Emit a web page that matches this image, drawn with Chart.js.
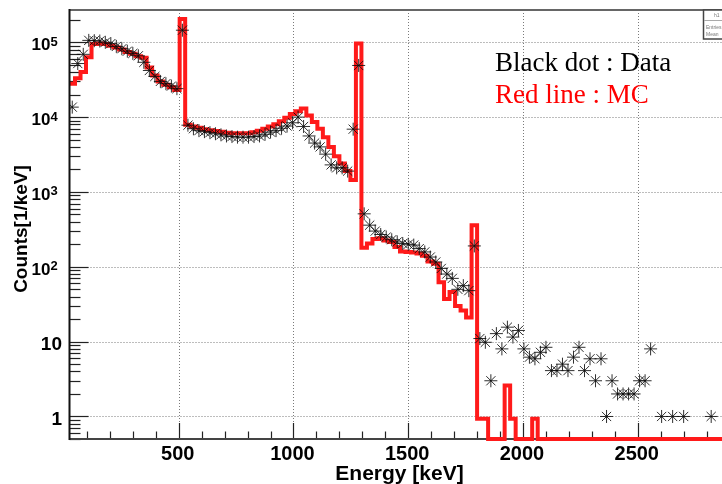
<!DOCTYPE html>
<html>
<head>
<meta charset="utf-8">
<script src="https://cdn.jsdelivr.net/npm/chart.js@4/dist/chart.umd.min.js"></script>
<style>
  html, body { margin: 0; padding: 0; overflow: hidden; background: #fff; width: 722px; height: 484px; }
  #wrap { position: absolute; left: 0; top: 0; width: 760px; height: 484px; }
</style>
</head>
<body>
<div id="wrap"><canvas id="spectrum" width="760" height="484"></canvas></div>
<script>
// Energy binning of the spectrum (keV)
const binWidth = 24;
const firstBinLow = 24;

// Measured spectrum, counts per keV for each 24 keV bin (null = empty bin)
const dataCounts = [
  1.36e4, 5.2e4, 6.9e4, 1.06e5, 1.05e5, 1.04e5, 1.0e5, 9.6e4, 8.8e4, 8.2e4,
  7.6e4, 7.1e4, 6.6e4, 5.4e4, 4.2e4, 3.5e4, 3.0e4, 2.8e4, 2.6e4, 2.4e4,
  1.45e5, 7.8e3, 7.0e3, 6.6e3, 6.4e3, 6.2e3, 6.0e3, 5.8e3, 5.6e3, 5.5e3,
  5.4e3, 5.4e3, 5.4e3, 5.5e3, 5.6e3, 5.9e3, 6.3e3, 6.6e3, 7.1e3, 7.6e3,
  8.4e3, 1.0e4, 7.5e3, 5.6e3, 4.5e3, 4.0e3, 3.2e3, 2.3e3, 2.1e3, 2.1e3,
  1.9e3, 6.9e3, 4.9e4, 510, 360, 300, 270, 250, 230, 215,
  205, 200, 195, 175, 158, 135, 116, 95, 80, 70,
  50, 56, 48, 190, 11, 9.8, 3.0, 12.8, 8.0, 15.6,
  11.5, 14.1, 8.0, 6.2, 5.9, 7.2, 8.4, 4.1, 4.1, 5.0,
  4.1, 6.2, 8.4, 4.1, 5.9, 3.0, 5.9, 1.0, 3.0, 2.0,
  2.0, 2.0, 2.0, 3.0, 3.0, 8.0, null, 1.0, null, 1.0,
  null, 1.0, null, null, null, null, 1.0, null, null, null,
  null, null, null, null
];

// Simulated spectrum, counts per keV for the same bins
const mcCounts = [
  2.8e4, 3.3e4, 4.0e4, 6.3e4, 9.5e4, 9.6e4, 9.5e4, 9.0e4, 8.5e4, 8.0e4,
  7.4e4, 7.0e4, 6.5e4, 6.2e4, 4.6e4, 3.6e4, 3.0e4, 2.7e4, 2.5e4, 2.3e4,
  2.05e5, 7.9e3, 7.5e3, 7.2e3, 6.9e3, 6.7e3, 6.5e3, 6.4e3, 6.2e3, 6.1e3,
  6.1e3, 6.1e3, 6.1e3, 6.3e3, 6.6e3, 7.0e3, 7.5e3, 8.0e3, 8.8e3, 9.8e3,
  1.1e4, 1.2e4, 1.3e4, 1.05e4, 8.6e3, 7.0e3, 5.4e3, 4.0e3, 3.0e3, 2.4e3,
  1.9e3, 1.45e3, 9.6e4, 180, 205, 235, 240, 225, 215, 184,
  160, 158, 155, 150, 140, 118, 110, 62, 37, 46,
  30, 26, 21, 360, 0.93, 0.93, 0, 0, 0, 2.6,
  0.93, 0, 0, 0, 0.93, 0, 0, 0, 0, 0,
  0, 0, 0, 0, 0, 0, 0, 0, 0, 0,
  0, 0, 0, 0, 0, 0, 0, 0, 0, 0,
  0, 0, 0, 0, 0, 0, 0, 0, 0, 0,
  0, 0, 0, 0
];

// Axis ranges and labelled ticks
const energyRange = [24, 3000];
const countRange = [0.5, 2.7e5];
const energyTicks = [500, 1000, 1500, 2000, 2500];
const countDecades = [0, 1, 2, 3, 4, 5];

// Histogram outline: one horizontal segment per bin, joined by vertical steps;
// empty bins sit on the lower edge of the log axis
const mcPoints = [];
mcCounts.forEach((v, i) => {
  const lo = firstBinLow + i * binWidth;
  const y = Math.max(v, countRange[0]);
  mcPoints.push({ x: lo, y: y }, { x: lo + binWidth, y: y });
});

// Measured points at the bin centres
const dataPoints = [];
dataCounts.forEach((v, i) => {
  if (v !== null) dataPoints.push({ x: firstBinLow + (i + 0.5) * binWidth, y: v });
});

const SANS = '"Liberation Sans", Arial, Helvetica, sans-serif';
const SERIF = '"Liberation Serif", "Times New Roman", serif';

function seg(ctx, x1, y1, x2, y2) {
  ctx.beginPath(); ctx.moveTo(x1, y1); ctx.lineTo(x2, y2); ctx.stroke();
}

// Frame, grid, inward ticks, labels and the text legend
const frameAxes = {
  id: 'frameAxes',
  beforeDatasetsDraw(chart) {
    const { ctx, chartArea: a, scales: { x, y } } = chart;
    ctx.save();
    ctx.strokeStyle = '#7a7a7a';
    ctx.lineWidth = 1;
    ctx.setLineDash([1, 2]);
    energyTicks.forEach(e => {
      const px = Math.round(x.getPixelForValue(e)) + 0.5;
      seg(ctx, px, a.top, px, a.bottom);
    });
    countDecades.forEach(d => {
      const py = Math.round(y.getPixelForValue(Math.pow(10, d))) + 0.5;
      seg(ctx, a.left, py, a.right, py);
    });
    ctx.setLineDash([]);

    // ticks on the energy axis (every 100 keV, longer every 500 keV)
    ctx.strokeStyle = '#222';
    ctx.lineWidth = 1.2;
    for (let e = 100; e < energyRange[1]; e += 100) {
      if (e < energyRange[0]) continue;
      const px = Math.round(x.getPixelForValue(e)) + 0.5;
      const len = (e % 500 === 0) ? 16 : 7.5;
      seg(ctx, px, a.bottom, px, a.bottom - len);
    }
    // ticks on the count axis (decades and sub-decades)
    for (let d = -1; d <= 5; d++) {
      for (let m = 1; m <= 9; m++) {
        const v = m * Math.pow(10, d);
        if (v < countRange[0] || v > countRange[1]) continue;
        const py = Math.round(y.getPixelForValue(v)) + 0.5;
        seg(ctx, a.left, py, a.left + (m === 1 ? 19 : 11), py);
      }
    }

    // axis lines and top frame
    ctx.strokeStyle = '#666';
    ctx.lineWidth = 2;
    seg(ctx, a.left, a.top, 760, a.top);
    ctx.strokeStyle = '#444';
    seg(ctx, a.left, a.bottom, 760, a.bottom);
    ctx.restore();
  },
  afterDatasetsDraw(chart) {
    const { ctx, chartArea: a, scales: { x, y } } = chart;
    ctx.save();
    ctx.setLineDash([]);

    ctx.strokeStyle = '#111';
    ctx.lineWidth = 2;
    seg(ctx, a.left, a.top - 1, a.left, a.bottom + 1);

    // energy tick labels
    ctx.fillStyle = '#000';
    ctx.font = 'bold 20px ' + SANS;
    ctx.textAlign = 'center';
    ctx.textBaseline = 'alphabetic';
    energyTicks.forEach(e => {
      ctx.fillText(String(e), x.getPixelForValue(e) - 1, 459.5);
    });

    // count tick labels, powers of ten with raised exponents
    countDecades.forEach(d => {
      const py = y.getPixelForValue(Math.pow(10, d));
      if (d < 2) {
        ctx.font = 'bold 19px ' + SANS;
        ctx.textAlign = 'right';
        ctx.fillText(d === 0 ? '1' : '10', 62, py + 8.5);
      } else {
        ctx.font = 'bold 17px ' + SANS;
        ctx.textAlign = 'right';
        ctx.fillText('10', 50.5, py + 8);
        ctx.font = 'bold 13px ' + SANS;
        ctx.textAlign = 'left';
        ctx.fillText(String(d), 50.5, py + 3.5);
      }
    });

    // axis titles
    ctx.font = 'bold 21px ' + SANS;
    ctx.textAlign = 'center';
    ctx.fillText('Energy [keV]', 399.5, 480);
    ctx.save();
    ctx.translate(26.5, 229);
    ctx.rotate(-Math.PI / 2);
    ctx.font = 'bold 19px ' + SANS;
    ctx.fillText('Counts[1/keV]', 0, 0);
    ctx.restore();

    // legend text
    ctx.textAlign = 'left';
    ctx.font = '27px ' + SERIF;
    ctx.fillStyle = '#000';
    ctx.fillText('Black dot : Data', 495, 71);
    ctx.fillStyle = '#ff0000';
    ctx.fillText('Red line : MC', 495, 102.5);

    // statistics box in the corner
    ctx.fillStyle = '#fff';
    ctx.fillRect(703, 10, 60, 29);
    ctx.strokeStyle = '#444';
    ctx.lineWidth = 1.5;
    ctx.strokeRect(703.5, 10, 60, 29);
    ctx.strokeStyle = '#aaa';
    ctx.lineWidth = 1;
    seg(ctx, 704, 20.5, 760, 20.5);
    ctx.fillStyle = '#777';
    ctx.font = '5px ' + SANS;
    ctx.fillText('h1', 714, 17);
    ctx.fillText('Entries', 706, 29);
    ctx.fillText('Mean', 706, 36);
    ctx.restore();
  }
};

new Chart(document.getElementById('spectrum'), {
  data: {
    datasets: [
      {
        type: 'line',
        label: 'Data',
        data: dataPoints,
        showLine: false,
        pointStyle: 'star',
        pointRadius: 6.5,
        pointBorderColor: 'rgba(10,10,10,0.85)',
        pointBackgroundColor: 'rgba(0,0,0,0)',
        pointBorderWidth: 1,
        order: 0
      },
      {
        type: 'line',
        label: 'MC',
        data: mcPoints,
        borderColor: '#ff1a1a',
        borderWidth: 4,
        borderJoinStyle: 'miter',
        borderCapStyle: 'butt',
        pointRadius: 0,
        fill: false,
        tension: 0,
        clip: { left: 2, top: 2, right: 2, bottom: 2 },
        order: 1
      }
    ]
  },
  options: {
    responsive: false,
    devicePixelRatio: 1,
    animation: false,
    events: [],
    layout: { padding: { left: 69.5, top: 10, right: 5.4, bottom: 45 } },
    scales: {
      x: { type: 'linear', min: energyRange[0], max: energyRange[1], display: false },
      y: { type: 'logarithmic', min: countRange[0], max: countRange[1], display: false }
    },
    plugins: { legend: { display: false }, tooltip: { enabled: false } }
  },
  plugins: [frameAxes]
});
</script>
</body>
</html>
